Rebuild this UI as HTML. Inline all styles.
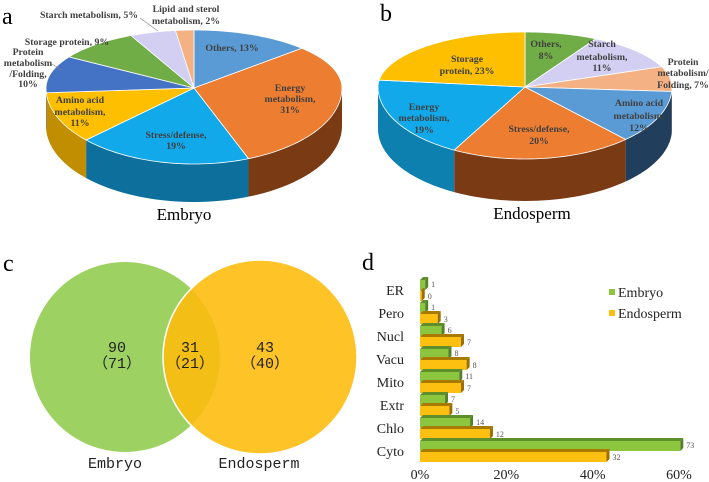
<!DOCTYPE html>
<html><head><meta charset="utf-8"><style>
body{margin:0;background:#fff}
svg{display:block}
.pl{font-family:"Liberation Serif",serif;font-weight:bold;font-size:9.8px;fill:#404040;text-anchor:middle}
.ttl{font-family:"Liberation Serif",serif;font-size:17px;fill:#000;text-anchor:middle}
.let{font-family:"Liberation Serif",serif;font-size:24px;fill:#000}
.vn{font-family:"Liberation Mono","Noto Sans CJK SC",monospace;font-size:15px;fill:#222;text-anchor:middle}
.ax{font-family:"Liberation Serif",serif;font-size:14px;fill:#222}
.vl{font-family:"Liberation Serif",serif;font-size:8px;fill:#555}
</style></head><body>
<svg id="s" width="709" height="482" viewBox="0 0 709 482" xmlns="http://www.w3.org/2000/svg">
<g id="pa"></g>
<g id="pb"></g>
<text class="let" x="2" y="24">a</text>
<text class="let" x="380" y="21">b</text>
<text class="let" x="3" y="271">c</text>
<text class="let" x="362" y="270">d</text>
<text class="ttl" x="184" y="220">Embryo</text>
<text class="ttl" x="532" y="219">Endosperm</text>
<g>
<line x1="140" y1="18" x2="158" y2="31" stroke="#888" stroke-width="0.6"/>
<line x1="52" y1="64" x2="62" y2="70" stroke="#888" stroke-width="0.6"/>
<text class="pl" x="232" y="51">Others, 13%</text>
<text class="pl" x="290" y="91">Energy</text><text class="pl" x="290" y="102">metabolism,</text><text class="pl" x="290" y="113">31%</text>
<text class="pl" x="176" y="138">Stress/defense,</text><text class="pl" x="176" y="149">19%</text>
<text class="pl" x="80" y="103">Amino acid</text><text class="pl" x="80" y="115">metabolism,</text><text class="pl" x="80" y="126">11%</text>
<text class="pl" x="28" y="55">Protein</text><text class="pl" x="28" y="66">metabolism</text><text class="pl" x="28" y="77">/Folding,</text><text class="pl" x="28" y="87">10%</text>
<text class="pl" x="67" y="45">Storage protein, 9%</text>
<text class="pl" x="89" y="18">Starch metabolism, 5%</text>
<text class="pl" x="186" y="12">Lipid and sterol</text><text class="pl" x="186" y="24">metabolism, 2%</text>
</g>
<g>
<text class="pl" x="546" y="47">Others,</text><text class="pl" x="546" y="59">8%</text>
<text class="pl" x="602" y="47">Starch</text><text class="pl" x="602" y="60">metabolism,</text><text class="pl" x="602" y="71">11%</text>
<text class="pl" x="683" y="65">Protein</text><text class="pl" x="683" y="76">metabolism/</text><text class="pl" x="683" y="88">Folding, 7%</text>
<text class="pl" x="639" y="106">Amino acid</text><text class="pl" x="639" y="119">metabolism,</text><text class="pl" x="639" y="131">12%</text>
<text class="pl" x="539" y="132">Stress/defense,</text><text class="pl" x="539" y="144">20%</text>
<text class="pl" x="424" y="110">Energy</text><text class="pl" x="424" y="121">metabolism,</text><text class="pl" x="424" y="133">19%</text>
<text class="pl" x="467" y="62">Storage</text><text class="pl" x="467" y="74">protein, 23%</text>
</g>
<g>
<circle cx="125" cy="357" r="95" fill="#9dd162"/>
<circle cx="260" cy="357" r="97" fill="#fdbd0f" fill-opacity="0.9" stroke="#fff" stroke-width="1.5"/>
<text class="vn" x="117" y="352">90</text><text class="vn" x="117" y="368">（71）</text>
<text class="vn" x="190" y="352">31</text><text class="vn" x="190" y="368">（21）</text>
<text class="vn" x="265" y="352">43</text><text class="vn" x="265" y="368">（40）</text>
<text class="vn" x="115" y="468">Embryo</text>
<text class="vn" x="259" y="468">Endosperm</text>
</g>
<g id="bars"></g>
</svg>
<script>
const pieALabels=["Others","Energy metabolism","Stress/defense","Amino acid metabolism","Protein metabolism/Folding","Storage protein","Starch metabolism","Lipid and sterol metabolism"];
const pieAValues=[13,31,19,11,10,9,5,2];
const pieBLabels=["Others","Starch metabolism","Protein metabolism/Folding","Amino acid metabolism","Stress/defense","Energy metabolism","Storage protein"];
const pieBValues=[8,11,7,12,20,19,23];
const categories=["ER","Pero","Nucl","Vacu","Mito","Extr","Chlo","Cyto"];
const embryoPct=[1.2,1.2,5.0,6.6,9.1,5.8,11.6,60.3];
const endoPct=[0.4,4.1,9.5,10.8,9.5,6.8,16.2,43.2];
const embryoCounts=[1,1,6,8,11,7,14,73];
const endoCounts=[0,3,7,8,7,5,12,32];
const xTicks=[0,20,40,60];

const NS="http://www.w3.org/2000/svg";
function mk(p,t,a){const e=document.createElementNS(NS,t);for(const k in a)e.setAttribute(k,a[k]);p.appendChild(e);return e;}
const colA=["#5b9bd5","#ed7d31","#12a9ea","#fdbf00","#4472c4","#70ad47","#d3cff3","#f4b183"];
const sideA=["#2f5f8f","#7a3a14","#0d6f9c","#c08e00","#2a4a85","#456e2a","#8d89b5","#b07050"];
const colB=["#70ad47","#d3cff3","#f4b183","#5b9bd5","#ed7d31","#12a9ea","#fdbf00"];
const sideB=["#456e2a","#8d89b5","#b07050","#213f5c","#7a3a14","#0d80b0","#c08e00"];
function pie(g,vals,cols,sides,cx,cy,rx,ryT,ryB,d,name){
  const tot=vals.reduce((a,b)=>a+b,0);
  const P=t=>{const c=Math.cos(t);return [cx+rx*Math.sin(t),cy-(c>0?ryT:ryB)*c];};
  let a=0;const segs=[];
  vals.forEach((v,i)=>{const b=a+v/tot*2*Math.PI;segs.push([a,b,i]);a=b;});
  segs.forEach(([s,e,i])=>{
    const lo=Math.max(s,Math.PI/2),hi=Math.min(e,3*Math.PI/2);
    if(hi<=lo)return;
    let top=[],bot=[];
    for(let k=0;k<=30;k++){const t=lo+(hi-lo)*k/30;const p=P(t);top.push(p);bot.push([p[0],p[1]+d]);}
    const pts=top.concat(bot.reverse()).map(p=>p.join(",")).join(" ");
    const el=mk(g,"polygon",{points:pts,fill:sides[i]});
    
    
  });
  segs.forEach(([s,e,i])=>{
    let pts=[[cx,cy]];
    const n=Math.max(4,Math.ceil((e-s)*40));
    for(let k=0;k<=n;k++)pts.push(P(s+(e-s)*k/n));
    const el=mk(g,"polygon",{points:pts.map(p=>p.join(",")).join(" "),fill:cols[i],stroke:"#fff","stroke-width":"0.8"});
    
    
  });
}
pie(document.getElementById("pa"),pieAValues,colA,sideA,194,88,148,58,76,38,"embryo");
pie(document.getElementById("pb"),pieBValues,colB,sideB,525,87,147,55,72,42,"endosperm");

const bg=document.getElementById("bars");
const x0=420,xs=(679-420)/60;
const X=v=>x0+v*xs;
const rowY=i=>290+i*23;
xTicks.forEach(t=>{
  const tx=mk(bg,"text",{x:X(t),y:479,"text-anchor":"middle",class:"ax"});tx.textContent=t+"%";
  
  
});
function bar3d(x1,y,h,fc,tc,sc,nm){
  const w=Math.max(X(x1)-x0,0.5),dx=3,dy=3;
  const g=mk(bg,"g",{});
  
  
  mk(g,"rect",{x:x0,y:y,width:w,height:h,fill:fc});
  mk(g,"polygon",{points:`${x0},${y} ${x0+dx},${y-dy} ${x0+w+dx},${y-dy} ${x0+w},${y}`,fill:tc});
  mk(g,"polygon",{points:`${x0+w},${y} ${x0+w+dx},${y-dy} ${x0+w+dx},${y+h-dy} ${x0+w},${y+h}`,fill:sc});
}
categories.forEach((c,i)=>{
  const cy=rowY(i);
  const t=mk(bg,"text",{x:404,y:cy+5,"text-anchor":"end",class:"ax"});t.textContent=c;
  
  
  bar3d(embryoPct[i],cy-10,10,"#8cc63e","#5f8f2a","#55802a","bar-embryo-"+c);
  bar3d(endoPct[i],cy+1,10,"#fdc010","#a97a00","#9a6e00","bar-endosperm-"+c);
  const l1=mk(bg,"text",{x:X(embryoPct[i])+6,y:cy-3,class:"vl"});l1.textContent=embryoCounts[i];
  
  
  const l2=mk(bg,"text",{x:X(endoPct[i])+6,y:cy+9,class:"vl"});l2.textContent=endoCounts[i];
  
  
});
[["Embryo","#8cc63e",293],["Endosperm","#fdc010",314]].forEach(([n,c,y])=>{
  const g=mk(bg,"g",{});
  
  
  mk(g,"rect",{x:609,y:y-4,width:6,height:6,fill:c});
  const t=mk(g,"text",{x:618,y:y+4,class:"ax"});t.textContent=n;
});
</script>
</body></html>
